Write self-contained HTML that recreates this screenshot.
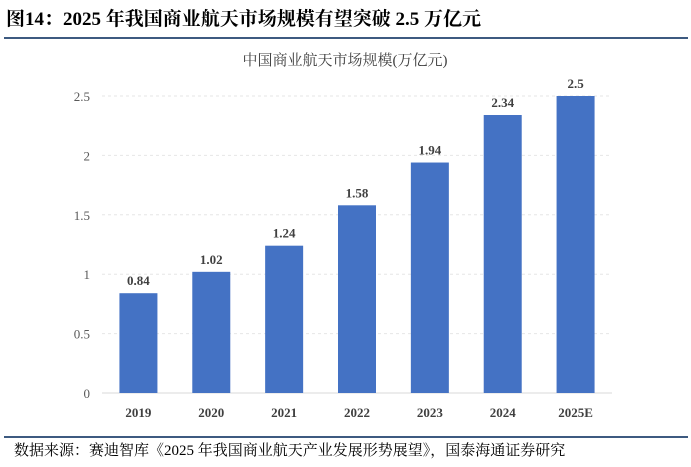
<!DOCTYPE html>
<html><head><meta charset="utf-8"><style>
body{margin:0;width:691px;height:467px;background:#fff;overflow:hidden;font-family:"Liberation Serif","Noto Serif CJK SC",serif}
.title{position:absolute;left:6px;top:4px;font-size:19px;font-weight:bold;color:#000;white-space:nowrap}
.line{position:absolute;left:4px;width:684px;height:1.5px;background:#3d5a80}
.src{position:absolute;left:14px;top:439px;font-size:15px;color:#000;white-space:nowrap}
</style></head><body>
<div class="title">图14：2025 年我国商业航天市场规模有望突破 2.5 万亿元</div>
<div class="line" style="top:37px"></div>
<svg id="chart" width="691" height="467" style="position:absolute;left:0;top:0">
<text x="345" y="65" text-anchor="middle" font-size="15" fill="#404040">中国商业航天市场规模(万亿元)</text>
</svg>
<div class="line" style="top:436px"></div>
<div class="src">数据来源：赛迪智库《2025 年我国商业航天产业发展形势展望》，国泰海通证券研究</div>
<script>
const categories=["2019","2020","2021","2022","2023","2024","2025E"];
const values=[0.84,1.02,1.24,1.58,1.94,2.34,2.5];
const valueLabels=["0.84","1.02","1.24","1.58","1.94","2.34","2.5"];
const ticks=[0,0.5,1,1.5,2,2.5];
const tickLabels=["0","0.5","1","1.5","2","2.5"];
const svg=document.getElementById('chart');
const NS='http://www.w3.org/2000/svg';
const x0=102,x1=612,y0=393,y1=96,vmax=2.5;
const band=(x1-x0)/categories.length;
const X=i=>x0+band*(i+0.5);
const Y=v=>y0-(v/vmax)*(y0-y1);
function mk(t,a){const e=document.createElementNS(NS,t);for(const k in a)e.setAttribute(k,a[k]);svg.appendChild(e);return e;}
ticks.forEach((t,i)=>{
 const g=mk('line',{x1:x0,x2:x1,y1:Y(t),y2:Y(t),stroke:t===0?'#d9d9d9':'#e6e6e6','stroke-dasharray':t===0?'':'3,3','stroke-width':1});
 
 
 const l=mk('text',{x:90,y:Y(t)+5,'text-anchor':'end','font-size':13,fill:'#595959'});
 l.textContent=tickLabels[i];
 
 
});
categories.forEach((c,i)=>{
 const w=38;
 const r=mk('rect',{x:X(i)-w/2,y:Y(values[i]),width:w,height:y0-Y(values[i]),fill:'#4472c4'});
 
 
 const v=mk('text',{x:X(i),y:Y(values[i])-8,'text-anchor':'middle','font-size':13,'font-weight':'bold',fill:'#404040'});
 v.textContent=valueLabels[i];
 
 
 const t=mk('text',{x:X(i),y:417,'text-anchor':'middle','font-size':13,'font-weight':'bold',fill:'#404040'});
 t.textContent=c;
 
 
});
</script>
</body></html>
